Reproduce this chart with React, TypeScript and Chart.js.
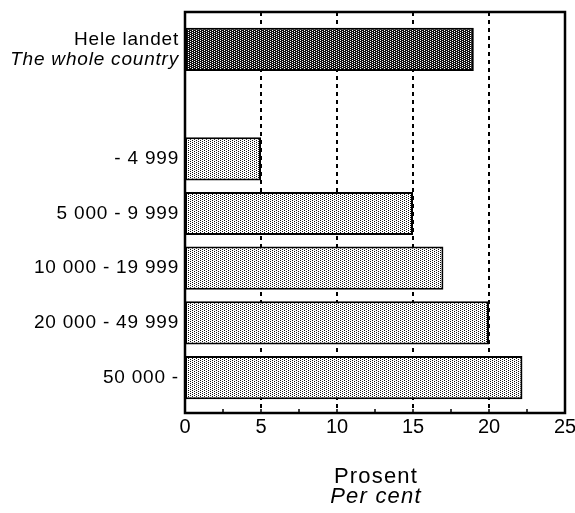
import React, { useEffect, useRef } from "react";
import { Chart, registerables } from "chart.js";

Chart.register(...registerables);

const categories: string[] = ["Hele landet", "", "- 4 999", "5 000 - 9 999", "10 000 - 19 999", "20 000 - 49 999", "50 000 -"];
const categoryItalic: string[] = ["The whole country", "", "", "", "", "", ""];
const values: (number | null)[] = [19, null, 5, 15, 17, 20, 22.2];
const darkRows: boolean[] = [true, false, false, false, false, false, false];
const xTicks: number[] = [0, 5, 10, 15, 20, 25];
const axisTitle = "Prosent";
const axisTitleItalic = "Per cent";

const FONT = "'Liberation Sans', Arial, Helvetica, sans-serif";

function makePattern(dark: boolean): CanvasPattern | string {
  const c = document.createElement("canvas");
  c.width = 4;
  c.height = 2;
  const g = c.getContext("2d");
  if (!g) return dark ? "#333" : "#ccc";
  g.fillStyle = dark ? "#111" : "#ffffff";
  g.fillRect(0, 0, 4, 2);
  g.fillStyle = dark ? "#ffffff" : "#111";
  g.fillRect(0, 0, 1, 1);
  g.fillRect(2, 1, 1, 1);
  const p = g.createPattern(c, "repeat");
  return p || (dark ? "#333" : "#ccc");
}

export default function App() {
  const ref = useRef<HTMLCanvasElement | null>(null);
  useEffect(() => {
    if (!ref.current) return;
    const light = makePattern(false);
    const dark = makePattern(true);
    const FRAME_EXT_TOP = 10;
    const FRAME_EXT_BOTTOM = 8;

    const framePlugin = {
      id: "frame",
      beforeDatasetsDraw(chart: any) {
        const { ctx, chartArea, scales } = chart;
        const x = scales.x;
        const top = chartArea.top - FRAME_EXT_TOP;
        const bottom = chartArea.bottom + FRAME_EXT_BOTTOM;
        ctx.save();
        ctx.strokeStyle = "#000";
        ctx.lineWidth = 2;
        ctx.setLineDash([4, 4]);
        for (const v of [5, 10, 15, 20]) {
          const px = Math.round(x.getPixelForValue(v));
          ctx.beginPath();
          ctx.moveTo(px, top);
          ctx.lineTo(px, bottom);
          ctx.stroke();
        }
        ctx.restore();
      },
      afterDatasetsDraw(chart: any) {
        const { ctx, chartArea, scales } = chart;
        const x = scales.x;
        const y = scales.y;
        const top = chartArea.top - FRAME_EXT_TOP;
        const bottom = chartArea.bottom + FRAME_EXT_BOTTOM;
        ctx.save();
        ctx.strokeStyle = "#000";
        ctx.lineWidth = 2.5;
        ctx.strokeRect(chartArea.left, top, chartArea.right - chartArea.left, bottom - top);
        ctx.lineWidth = 1.5;
        for (let v = 0; v <= 25; v += 2.5) {
          const px = x.getPixelForValue(v);
          ctx.beginPath();
          ctx.moveTo(px, bottom);
          ctx.lineTo(px, bottom - 4);
          ctx.stroke();
        }
        // y labels
        ctx.fillStyle = "#000";
        ctx.textAlign = "right";
        ctx.textBaseline = "middle";
        (ctx as any).letterSpacing = "0.8px";
        const lx = chartArea.left - 6;
        categories.forEach((lab, i) => {
          const py = y.getPixelForValue(i);
          const it = categoryItalic[i];
          if (it) {
            ctx.font = `19px ${FONT}`;
            ctx.fillText(lab, lx, py - 10);
            ctx.font = `italic 19px ${FONT}`;
            ctx.fillText(it, lx, py + 10);
          } else if (lab) {
            ctx.font = `19px ${FONT}`;
            ctx.fillText(lab, lx, py);
          }
        });
        // axis title
        ctx.textAlign = "center";
        (ctx as any).letterSpacing = "1.2px";
        const cx = (chartArea.left + chartArea.right) / 2;
        ctx.font = `22px ${FONT}`;
        ctx.fillText(axisTitle, cx + 1, 477);
        ctx.font = `italic 22px ${FONT}`;
        ctx.fillText(axisTitleItalic, cx + 1, 497);
        (ctx as any).letterSpacing = "0px";
        ctx.restore();
      },
    };

    const chart = new Chart(ref.current, {
      type: "bar",
      data: {
        labels: categories,
        datasets: [
          {
            data: values,
            backgroundColor: darkRows.map((d) => (d ? dark : light)) as any,
            borderColor: "#000",
            borderWidth: 2,
            borderSkipped: false,
            categoryPercentage: 1,
            barPercentage: 0.79,
          },
        ],
      },
      options: {
        indexAxis: "y",
        animation: false,
        responsive: false,
        events: [],
        layout: { padding: { left: 185, right: 10, top: 22, bottom: 64 } },
        plugins: { legend: { display: false }, tooltip: { enabled: false }, title: { display: false } },
        scales: {
          x: {
            type: "linear",
            min: 0,
            max: 25,
            afterBuildTicks: (s: any) => {
              s.ticks = xTicks.map((v) => ({ value: v }));
            },
            afterFit: (s: any) => {
              s.paddingRight = 0;
              s.paddingLeft = 0;
            },
            grid: { display: false, drawTicks: false },
            border: { display: false },
            ticks: { color: "#000", font: { size: 20, family: FONT }, padding: 10, maxRotation: 0 },
          },
          y: {
            type: "category",
            grid: { display: false, drawTicks: false },
            border: { display: false },
            ticks: { display: false },
          },
        },
      },
      plugins: [framePlugin],
    });
    return () => chart.destroy();
  }, []);
  return (
    <div style={{ position: "fixed", left: 0, top: 0, width: 575, height: 513, background: "#fff" }}>
      <canvas ref={ref} width={575} height={513} style={{ width: 575, height: 513, display: "block" }} />
    </div>
  );
}
